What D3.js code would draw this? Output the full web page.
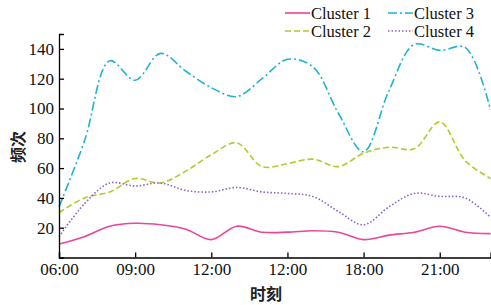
<!DOCTYPE html>
<meta charset="utf-8">
<script src="https://d3js.org/d3.v7.min.js"></script>
<style>
  body { margin: 0; background: #fff; }
</style>
<div id="my_dataviz"></div>
<script>

// hours of the day (6:00 .. 23:00)
var hours = [6, 7, 8, 9, 10, 11, 12, 13, 14, 15, 16, 17, 18, 19, 20, 21, 22, 23];

var cluster1 = [9, 14, 21, 23, 22, 19, 12, 21, 17, 17, 18, 17, 12, 15, 17, 21, 17, 16];
var cluster2 = [30, 40, 44, 53, 50, 58, 69, 77, 61, 63, 66, 61, 70, 74, 73, 91, 65, 53];
var cluster3 = [34, 78, 132, 119, 137, 125, 114, 108, 120, 133, 128, 97, 71, 112, 143, 139, 141, 99];
var cluster4 = [14, 36, 50, 48, 50, 45, 44, 47, 44, 43, 41, 31, 22, 34, 43, 41, 40, 27];

var seriesNames = ["Cluster 1", "Cluster 2", "Cluster 3", "Cluster 4"];
var xTickValues = [6, 9, 12, 15, 18, 21];
var xTickLabels = ["06:00", "09:00", "12:00", "12:00", "18:00", "21:00"];
var yTickValues = [20, 40, 60, 80, 100, 120, 140];

var colors = ["#e8479b", "#b5c92c", "#1eb2d6", "#8c62c8"];
var dashes = [null, "6,3", "9,3,2,3", "1.5,2"];

var serif = "'Liberation Serif', 'Times New Roman', serif";
var cjk = "'Noto Sans CJK SC', sans-serif";

var W = 491, H = 305;
var margin = {top: 34, right: 0, bottom: 47, left: 59};

var svg = d3.select("#my_dataviz")
  .append("svg")
    .attr("width", W)
    .attr("height", H);

var x = d3.scaleLinear()
  .domain([6, 23])
  .range([margin.left, W - 0.5]);

var y = d3.scaleLinear()
  .domain([0, 150])
  .range([H - margin.bottom - 0.5, margin.top]);

// lines
var line = d3.line()
  .x(function(d) { return x(d[0]); })
  .y(function(d) { return y(d[1]); })
  .curve(d3.curveCatmullRom.alpha(0.5));

var allSeries = [cluster1, cluster2, cluster3, cluster4];

allSeries.forEach(function(vals, i) {
  svg.append("path")
    .datum(hours.map(function(h, j) { return [h, vals[j]]; }))
    .attr("fill", "none")
    .attr("stroke", colors[i])
    .attr("stroke-width", 1.6)
    .attr("stroke-dasharray", dashes[i])
    .attr("d", line);
});

// X axis
var xAxis = svg.append("g")
  .attr("transform", "translate(0," + y(0) + ")")
  .call(d3.axisBottom(x)
    .tickValues(xTickValues)
    .tickFormat(function(d, i) { return xTickLabels[i]; })
    .tickSizeInner(-5)
    .tickSizeOuter(-5)
    .tickPadding(5));

// Y axis
var yAxis = svg.append("g")
  .attr("transform", "translate(" + x(6) + ",0)")
  .call(d3.axisLeft(y)
    .tickValues(yTickValues)
    .tickSizeInner(-5)
    .tickSizeOuter(-5)
    .tickPadding(5));

[xAxis, yAxis].forEach(function(g) {
  g.attr("font-family", serif).attr("font-size", 17);
  g.selectAll("path, line").attr("stroke", "#000").attr("stroke-width", 1.3);
  g.selectAll("text").attr("fill", "#111");
});

// axis titles
svg.append("text")
  .attr("x", 266)
  .attr("y", 300)
  .attr("text-anchor", "middle")
  .attr("font-family", cjk)
  .attr("font-size", 16)
  .attr("font-weight", 700)
  .attr("fill", "#222")
  .text("时刻");

svg.append("text")
  .attr("transform", "translate(24,147) rotate(-90)")
  .attr("text-anchor", "middle")
  .attr("font-family", cjk)
  .attr("font-size", 16)
  .attr("font-weight", 700)
  .attr("fill", "#222")
  .text("频次");

// legend
var legendPos = [
  {lx: 285, ly: 13},
  {lx: 285, ly: 31},
  {lx: 388, ly: 13},
  {lx: 388, ly: 31}
];

seriesNames.forEach(function(name, i) {
  var p = legendPos[i];
  svg.append("line")
    .attr("x1", p.lx).attr("x2", p.lx + 25)
    .attr("y1", p.ly).attr("y2", p.ly)
    .attr("stroke", colors[i])
    .attr("stroke-width", 1.6)
    .attr("stroke-dasharray", dashes[i]);
  svg.append("text")
    .attr("x", p.lx + 26)
    .attr("y", p.ly + 6)
    .attr("font-family", serif)
    .attr("font-size", 16.5)
    .attr("fill", "#111")
    .text(name);
});

</script>
